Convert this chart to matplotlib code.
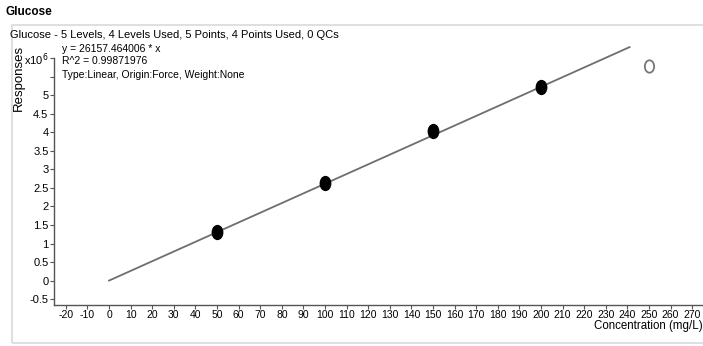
import matplotlib
matplotlib.use("Agg")
import matplotlib.pyplot as plt
from matplotlib.markers import MarkerStyle
from matplotlib.transforms import Affine2D
from matplotlib.patches import Rectangle
import numpy as np

plt.rcParams['font.family'] = ['Liberation Sans', 'DejaVu Sans']

# calibration levels (mg/L) and responses (x10^6)
conc_used = [50, 100, 150, 200]
resp_used = [1.31, 2.64, 4.04, 5.23]
conc_excluded = [250]
resp_excluded = [5.80]
slope = 26157.464006  # response per mg/L
fit_range = [0, 241]

y_ticks = [-0.5, 0, 0.5, 1, 1.5, 2, 2.5, 3, 3.5, 4, 4.5, 5, 5.5, 6]
y_labels = ['-0.5', '0', '0.5', '1', '1.5', '2', '2.5', '3', '3.5', '4', '4.5', '5', '', 'x10$^6$']
x_ticks = list(range(-20, 271, 10))

fig = plt.figure(figsize=(7.03, 3.46), dpi=100)

# light frame around the plot area
fig.patches.append(Rectangle((12 / 703, 3 / 346), 0.99, 318 / 346, transform=fig.transFigure,
                             fill=False, edgecolor='#d9d9d9', linewidth=1.2))

fig.text(5 / 703, 1 - 12 / 346, 'Glucose', fontsize=8.5, fontweight='bold', va='center', ha='left')
fig.text(10 / 703, 1 - 35 / 346, 'Glucose - 5 Levels, 4 Levels Used, 5 Points, 4 Points Used, 0 QCs',
         fontsize=8, va='center', ha='left')
fig.text(19 / 703, 1 - 78 / 346, 'Responses', fontsize=9.5, rotation=90, va='center', ha='center')

ax = fig.add_axes([54 / 703, 41 / 346, 1 - 54 / 703, (305 - 38) / 346])
ax.set_xlim(-25.5, 275)
ax.set_ylim(-0.66, 6.55)

# forced-origin linear fit
fx = np.array(fit_range)
ax.plot(fx, slope * fx / 1e6, color='#6e6e6e', linewidth=1.3, zorder=2)

oval = MarkerStyle('o', transform=Affine2D().scale(0.75, 1.0))
ax.scatter(conc_used, resp_used, marker=oval, s=100, color='black', zorder=3)
ax.scatter(conc_excluded, resp_excluded, marker=oval, s=80, facecolor='white',
           edgecolor='#777777', linewidth=1.3, zorder=3)

ax.text(-22, 6.25, 'y = 26157.464006 * x', fontsize=7.5, va='center')
ax.text(-22, 5.92, 'R^2 = 0.99871976', fontsize=7.5, va='center')
ax.text(-22, 5.55, 'Type:Linear, Origin:Force, Weight:None', fontsize=7.5, va='center')

ax.set_yticks(y_ticks)
ax.set_yticklabels(y_labels)
ax.set_xticks(x_ticks)
ax.set_xticklabels([str(t) for t in x_ticks])
ax.tick_params(axis='both', labelsize=8, length=3, width=0.8, color='#555555', pad=1)
ax.tick_params(axis='x', labelsize=7.5, pad=0.5)

for side in ['top', 'right']:
    ax.spines[side].set_visible(False)
ax.spines['left'].set_bounds(-0.66, 6)
for side in ['left', 'bottom']:
    ax.spines[side].set_color('#555555')
    ax.spines[side].set_linewidth(1.0)

fig.text(1.0, 1 - 326 / 346, 'Concentration (mg/L)', fontsize=8.3, ha='right', va='center')

fig.savefig('out.png', dpi=100)
